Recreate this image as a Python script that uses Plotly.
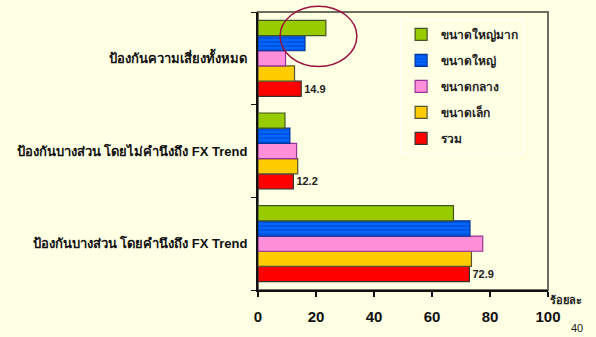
import plotly.graph_objects as go

categories = ["ป้องกันบางส่วน โดยคำนึงถึง FX Trend",
              "ป้องกันบางส่วน โดยไม่คำนึงถึง FX Trend",
              "ป้องกันความเสี่ยงทั้งหมด"]
series_names = ["รวม", "ขนาดเล็ก", "ขนาดกลาง", "ขนาดใหญ่", "ขนาดใหญ่มาก"]
total = [72.9, 12.2, 14.9]
small = [73.6, 13.7, 12.6]
medium = [77.5, 13.3, 9.5]
large = [73.1, 11.0, 16.2]
very_large = [67.4, 9.3, 23.4]
x_ticks = [0, 20, 40, 60, 80, 100]

values = [total, small, medium, large, very_large]
colors = ["#FF0000", "#FFCC00", "#FF8FD8", "#0066FF", "#99CC00"]
borders = ["#333333", "#555533", "#993399", "#003399", "#445522"]
patterns = ["", "", "", "-", ""]

BG = "#FFFFE3"
fig = go.Figure()
for i, (name, vals) in enumerate(zip(series_names, values)):
    fig.add_trace(go.Bar(
        y=categories, x=vals, name=f"<b>{name}</b>", orientation="h",
        legendgroup=f"g{i}", legendrank=100 - i,
        marker=dict(color=colors[i], line=dict(color=borders[i], width=1.2),
                    pattern=dict(shape=patterns[i], fgcolor="#0033AA", size=4, solidity=0.35) if patterns[i] else None),
        text=[f"<b>{v:.1f}</b>" for v in vals] if i == 0 else None,
        textposition="outside" if i == 0 else None,
        textfont=dict(family="Arial, Liberation Sans", size=11, color="#222222"),
        cliponaxis=False,
    ))

fig.update_layout(
    barmode="group", bargap=0.18, bargroupgap=0,
    width=596, height=337,
    margin=dict(l=258, r=48, t=12, b=39),
    paper_bgcolor=BG, plot_bgcolor=BG,
    font=dict(family="Arial, Liberation Sans, sans-serif", color="#111111"),
    showlegend=True,
    legend=dict(traceorder="grouped", x=0.49, y=0.975, xanchor="left", yanchor="top",
                bgcolor=BG, bordercolor="#FFFFFF", borderwidth=1,
                font=dict(size=12, color="#222222"), itemwidth=30, tracegroupgap=7),
    shapes=[
        dict(type="rect", xref="paper", yref="paper", x0=0, x1=1, y0=0, y1=1,
             line=dict(color="#6E6E60", width=2), layer="below"),
        dict(type="circle", xref="x", yref="paper", x0=7.6, x1=34.1, y0=0.804, y1=1.021,
             line=dict(color="#99133F", width=1.5), layer="above"),
    ],
    annotations=[
        dict(text="<b>ร้อยละ</b>", xref="paper", yref="paper", x=1.0, y=-0.007,
             xanchor="left", yanchor="top", showarrow=False, font=dict(size=11, color="#222222")),
        dict(text="40", xref="paper", yref="paper", x=1.1, y=-0.135, xanchor="center",
             yanchor="middle", showarrow=False, font=dict(size=11, color="#222222")),
    ],
)
fig.update_xaxes(range=[0, 100], tickvals=x_ticks, ticktext=[f"<b>{t}</b>" for t in x_ticks],
                 showgrid=False, zeroline=False, showline=True, linecolor="#111111", linewidth=2,
                 ticks="outside", ticklen=5, tickcolor="#111111", tickwidth=1.5,
                 ticklabelstandoff=7,
                 tickfont=dict(size=15, color="#111111"))
fig.update_yaxes(showgrid=False, zeroline=False, showline=True, linecolor="#111111", linewidth=2,
                 ticks="outside", ticklen=5, tickcolor="#111111", tickson="boundaries",
                 ticktext=[f"<b>{c}</b>" for c in categories], tickvals=categories,
                 ticklabelstandoff=6,
                 tickfont=dict(size=13, color="#111111"))
fig.write_html("out.html")
